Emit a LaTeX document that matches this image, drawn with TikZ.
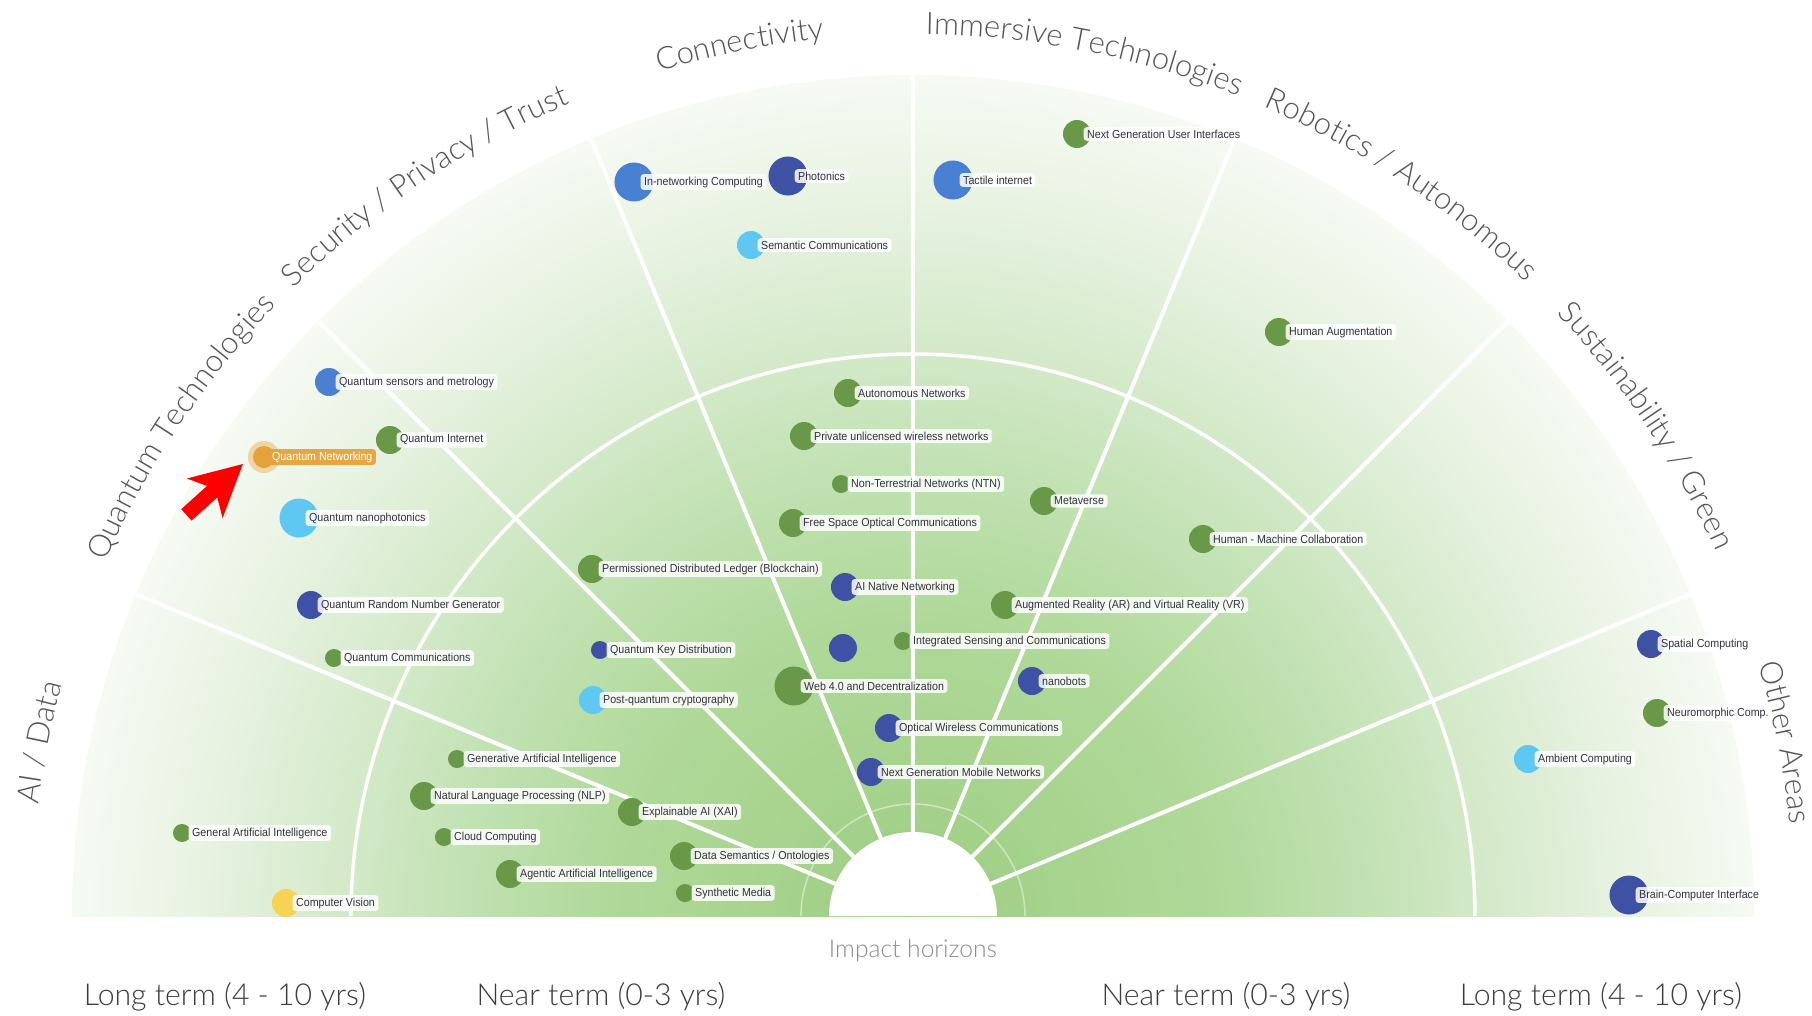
\documentclass[tikz,border=0pt]{standalone}
\usepackage{fontspec}
\usetikzlibrary{positioning,decorations.text,shapes.arrows}

\newfontfamily\tagfont{Liberation Sans}[FakeStretch=0.92]
\newfontfamily\catfont{Lato}[UprightFont=* Light]

\definecolor{dotgreen}{RGB}{104,152,72}
\definecolor{dotnavy}{RGB}{63,81,165}
\definecolor{dotblue}{RGB}{74,128,210}
\definecolor{dotsky}{RGB}{94,200,242}
\definecolor{dotyellow}{RGB}{247,210,85}
\definecolor{qnorange}{RGB}{228,163,58}
\definecolor{tagtext}{RGB}{50,50,60}
\definecolor{catgray}{RGB}{85,85,85}
\definecolor{horizongray}{RGB}{60,60,60}
\definecolor{impactgray}{RGB}{140,140,140}

\pgfdeclareradialshading{radarfill}{\pgfpoint{0bp}{0bp}}{%
  rgb(0bp)=(0.62,0.80,0.52);
  rgb(3bp)=(0.64,0.82,0.54);
  rgb(9bp)=(0.69,0.85,0.60);
  rgb(13bp)=(0.75,0.88,0.69);
  rgb(17bp)=(0.83,0.915,0.79);
  rgb(21bp)=(0.905,0.95,0.88);
  rgb(25bp)=(0.965,0.98,0.955);
  rgb(50bp)=(0.965,0.98,0.955)}

\newcommand\catstyle{\catfont\fontsize{8.8}{11}\selectfont\color{catgray}}
\newcommand\tech[5]{%
  \node[#3, fill=#4] (#1) at (#2) {};
  \node[tag] (#1-tag) at ([xshift=0.6mm]#1.center) {#5};}

\begin{document}
\begin{tikzpicture}[
  x = 1mm, y = 1mm,
  dot/.style = {circle, inner sep=0pt},
  dotS/.style = {dot, minimum size=1.8mm},
  dotM/.style = {dot, minimum size=2.8mm},
  dotL/.style = {dot, minimum size=3.9mm},
  tag/.style = {anchor=west, fill=white, fill opacity=0.85, text opacity=1,
    text=tagtext, rounded corners=0.3mm, inner xsep=0.35mm, inner ysep=0.25mm,
    font=\tagfont\fontsize{3.3}{3.9}\selectfont},
  spoke/.style = {draw=white, line width=0.4mm},
  catlabel/.style = {decorate, decoration={text along path, text align=center,
    text={|\catstyle|#1}}},
  horizon/.style = {font=\catfont\fontsize{8.6}{11}\selectfont, text=horizongray},
  pointer/.style = {single arrow, fill=red, anchor=tip, rotate=42,
    minimum height=7.6mm, inner sep=0.7mm, single arrow head extend=1.9mm,
    single arrow tip angle=55, single arrow head indent=1mm},
  ]
  \path[use as bounding box, fill=white] (-91.3,-9.9) rectangle (89.9,91.6);

  \begin{scope}
    \clip (-84.1,0) rectangle (84.1,84.1);
    \shade[shading=radarfill] (0,0) circle[radius=84.1mm];
  \end{scope}

  \draw[white, opacity=0.45, line width=0.15mm]
  (11.2,0) arc[start angle=0, end angle=180, radius=11.2mm];
  \draw[white, line width=0.35mm]
  (56.2,0) arc[start angle=0, end angle=180, radius=56.2mm];
  \path[spoke]
  (22.5:8.4) -- (22.5:84.1)
  (45:8.4) -- (45:84.1)
  (67.5:8.4) -- (67.5:84.1)
  (90:8.4) -- (90:84.1)
  (112.5:8.4) -- (112.5:84.1)
  (135:8.4) -- (135:84.1)
  (157.5:8.4) -- (157.5:84.1);
  \fill[white] (8.4,0) arc[start angle=0, end angle=180, radius=8.4mm] -- cycle;

  \path[catlabel={AI / Data}]
  (182.75:88.2) arc[start angle=182.75, end angle=154.75, radius=88.2mm];
  \path[catlabel={Quantum Technologies}]
  (160.25:88.2) arc[start angle=160.25, end angle=132.25, radius=88.2mm];
  \path[catlabel={Security / Privacy / Trust}]
  (137.75:88.2) arc[start angle=137.75, end angle=109.75, radius=88.2mm];
  \path[catlabel={Connectivity}]
  (115.25:88.2) arc[start angle=115.25, end angle=87.25, radius=88.2mm];
  \path[catlabel={Immersive Technologies}]
  (92.75:88.2) arc[start angle=92.75, end angle=64.75, radius=88.2mm];
  \path[catlabel={Robotics / Autonomous}]
  (70.25:88.2) arc[start angle=70.25, end angle=42.25, radius=88.2mm];
  \path[catlabel={Sustainability / Green}]
  (47.75:88.2) arc[start angle=47.75, end angle=19.75, radius=88.2mm];
  \path[catlabel={Other Areas}]
  (25.25:88.2) arc[start angle=25.25, end angle=-2.75, radius=88.2mm];

  \tech{inc}{-27.9,73.4}{dotL}{dotblue}{In-networking Computing}
  \tech{pho}{-12.5,74.0}{dotL}{dotnavy}{Photonics}
  \tech{sem}{-16.2,67.1}{dotM}{dotsky}{Semantic Communications}
  \tech{tac}{4.0,73.6}{dotL}{dotblue}{Tactile internet}
  \tech{ngui}{16.4,78.2}{dotM}{dotgreen}{Next Generation User Interfaces}
  \tech{hau}{36.6,58.4}{dotM}{dotgreen}{Human Augmentation}
  \tech{qsm}{-58.4,53.4}{dotM}{dotblue}{Quantum sensors and metrology}
  \tech{qin}{-52.3,47.6}{dotM}{dotgreen}{Quantum Internet}
  \tech{qnp}{-61.4,39.8}{dotL}{dotsky}{Quantum nanophotonics}
  \tech{qrng}{-60.2,31.1}{dotM}{dotnavy}{Quantum Random Number Generator}
  \tech{qcom}{-57.9,25.8}{dotS}{dotgreen}{Quantum Communications}
  \tech{aut}{-6.5,52.3}{dotM}{dotgreen}{Autonomous Networks}
  \tech{puw}{-10.9,48.0}{dotM}{dotgreen}{Private unlicensed wireless networks}
  \tech{ntn}{-7.2,43.2}{dotS}{dotgreen}{Non-Terrestrial Networks (NTN)}
  \tech{fso}{-12.0,39.3}{dotM}{dotgreen}{Free Space Optical Communications}
  \tech{met}{13.1,41.5}{dotM}{dotgreen}{Metaverse}
  \tech{hmc}{29.0,37.7}{dotM}{dotgreen}{Human - Machine Collaboration}
  \tech{pdl}{-32.1,34.7}{dotM}{dotgreen}{Permissioned Distributed Ledger (Blockchain)}
  \tech{ain}{-6.8,32.9}{dotM}{dotnavy}{AI Native Networking}
  \tech{arvr}{9.2,31.1}{dotM}{dotgreen}{Augmented Reality (AR) and Virtual Reality (VR)}
  \node[dotM, fill=dotnavy] (lone) at (-7.0,26.8) {};
  \tech{isac}{-1.0,27.5}{dotS}{dotgreen}{Integrated Sensing and Communications}
  \tech{qkd}{-31.3,26.6}{dotS}{dotnavy}{Quantum Key Distribution}
  \tech{web}{-11.9,23.0}{dotL}{dotgreen}{Web 4.0 and Decentralization}
  \tech{nano}{11.9,23.5}{dotM}{dotnavy}{nanobots}
  \tech{pqc}{-32.0,21.6}{dotM}{dotsky}{Post-quantum cryptography}
  \tech{owc}{-2.4,18.8}{dotM}{dotnavy}{Optical Wireless Communications}
  \tech{ngmn}{-4.2,14.4}{dotM}{dotnavy}{Next Generation Mobile Networks}
  \tech{gai}{-45.6,15.7}{dotS}{dotgreen}{Generative Artificial Intelligence}
  \tech{nlp}{-48.9,12.0}{dotM}{dotgreen}{Natural Language Processing (NLP)}
  \tech{xai}{-28.1,10.4}{dotM}{dotgreen}{Explainable AI (XAI)}
  \tech{agi}{-73.1,8.3}{dotS}{dotgreen}{General Artificial Intelligence}
  \tech{cc}{-46.9,7.9}{dotS}{dotgreen}{Cloud Computing}
  \tech{dso}{-22.9,6.0}{dotM}{dotgreen}{Data Semantics / Ontologies}
  \tech{agent}{-40.3,4.2}{dotM}{dotgreen}{Agentic Artificial Intelligence}
  \tech{syn}{-22.8,2.3}{dotS}{dotgreen}{Synthetic Media}
  \tech{cv}{-62.7,1.3}{dotM}{dotyellow}{Computer Vision}
  \tech{spc}{73.8,27.2}{dotM}{dotnavy}{Spatial Computing}
  \tech{neu}{74.4,20.3}{dotM}{dotgreen}{Neuromorphic Comp.}
  \tech{amb}{61.5,15.7}{dotM}{dotsky}{Ambient Computing}
  \tech{bci}{71.6,2.1}{dotL}{dotnavy}{Brain-Computer Interface}

  \node[dot, minimum size=3.2mm, fill=qnorange!70, fill opacity=0.6] (qn-halo) at (-64.9,45.9) {};
  \node[dot, minimum size=2.2mm, fill=qnorange] (qn) at (qn-halo.center) {};
  \node[tag, fill=qnorange, fill opacity=0.95, text=white] (qn-tag)
  at ([xshift=0.4mm]qn.center) {Quantum Networking};
  \node[pointer] (arrow) at ([shift={(-2.0,-0.6)}]qn.center) {};

  \node[font=\catfont\fontsize{7}{9}\selectfont, text=impactgray] (impact) at (0,-3.5) {Impact horizons};
  \node[horizon] (long-l) at (-68.8,-8.1) {Long term (4 - 10 yrs)};
  \node[horizon] (near-l) at (-31.2,-8.1) {Near term (0-3 yrs)};
  \node[horizon] (near-r) at (31.3,-8.1) {Near term (0-3 yrs)};
  \node[horizon] (long-r) at (68.8,-8.1) {Long term (4 - 10 yrs)};
\end{tikzpicture}
\end{document}
